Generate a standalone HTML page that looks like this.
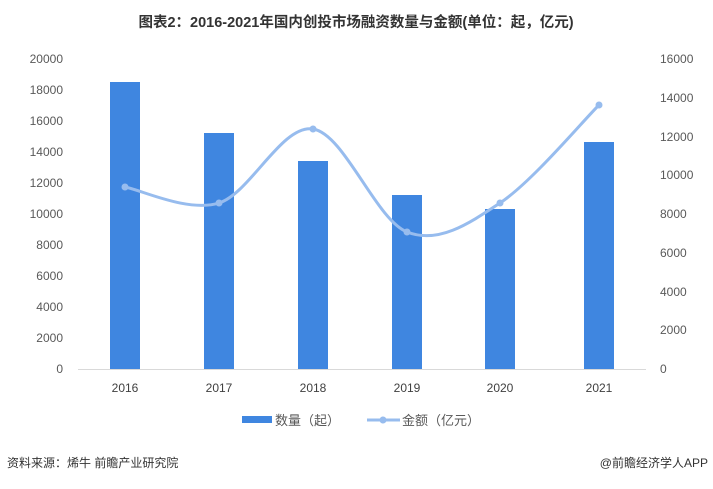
<!DOCTYPE html>
<html><head><meta charset="utf-8"><style>
body{margin:0;background:#fff;width:713px;height:484px;overflow:hidden}
text{font-family:"Liberation Sans","Noto Sans CJK SC",sans-serif}
</style></head><body>
<svg width="713" height="484" xmlns="http://www.w3.org/2000/svg">
<text x="356" y="27" text-anchor="middle" font-size="14.5" font-weight="bold" fill="#333">图表2：2016-2021年国内创投市场融资数量与金额(单位：起，亿元)</text>
<g font-size="12" fill="#595959" text-anchor="end">
<text x="63" y="373">0</text><text x="63" y="342">2000</text><text x="63" y="311">4000</text><text x="63" y="280">6000</text><text x="63" y="249">8000</text><text x="63" y="218">10000</text><text x="63" y="187">12000</text><text x="63" y="156">14000</text><text x="63" y="125">16000</text><text x="63" y="94">18000</text><text x="63" y="63">20000</text>
</g>
<g font-size="12" fill="#595959" text-anchor="start">
<text x="660" y="373">0</text><text x="660" y="334">2000</text><text x="660" y="296">4000</text><text x="660" y="257">6000</text><text x="660" y="218">8000</text><text x="660" y="179">10000</text><text x="660" y="141">12000</text><text x="660" y="102">14000</text><text x="660" y="63">16000</text>
</g>
<line x1="78" y1="369.5" x2="646" y2="369.5" stroke="#d9d9d9"/>
<g fill="#3f86e0">
<rect x="110" y="82" width="30" height="287"/>
<rect x="204" y="133" width="30" height="236"/>
<rect x="298" y="161" width="30" height="208"/>
<rect x="392" y="195" width="30" height="174"/>
<rect x="485" y="209" width="30" height="160"/>
<rect x="584" y="142" width="30" height="227"/>
</g>
<path d="M125,187 C140.7,189.7 187.7,212.7 219,203 C250.3,193.3 281.7,124.2 313,129 C344.3,133.8 375.8,219.7 407,232 C438.2,244.3 468,224.2 500,203 C532,181.8 582.5,121.3 599,105" fill="none" stroke="#97bcee" stroke-width="3"/>
<g fill="#97bcee">
<circle cx="125" cy="187" r="3.5"/><circle cx="219" cy="203" r="3.5"/><circle cx="313" cy="129" r="3.5"/><circle cx="407" cy="232" r="3.5"/><circle cx="500" cy="203" r="3.5"/><circle cx="599" cy="105" r="3.5"/>
</g>
<g font-size="12" fill="#404040" text-anchor="middle">
<text x="125" y="392">2016</text><text x="219" y="392">2017</text><text x="313" y="392">2018</text><text x="407" y="392">2019</text><text x="500" y="392">2020</text><text x="599" y="392">2021</text>
</g>
<rect x="242" y="416" width="30" height="7" fill="#3f86e0"/>
<text x="275" y="425" font-size="13" fill="#595959">数量（起）</text>
<line x1="367" y1="420" x2="400" y2="420" stroke="#97bcee" stroke-width="3"/>
<circle cx="383" cy="420" r="3.5" fill="#97bcee"/>
<text x="402" y="425" font-size="13" fill="#595959">金额（亿元）</text>
<text x="7" y="467" font-size="12" fill="#333">资料来源：烯牛 前瞻产业研究院</text>
<text x="708" y="467" font-size="12" fill="#333" text-anchor="end">@前瞻经济学人APP</text>
</svg>
</body></html>
